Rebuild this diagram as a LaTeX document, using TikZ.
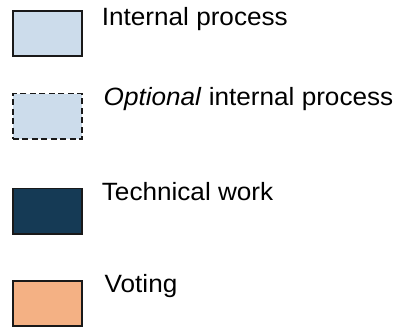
\documentclass[tikz,border=0pt]{standalone}
\usepackage{fontspec}
\setmainfont{Liberation Sans}[FakeStretch=1.045]
\definecolor{lightblue}{HTML}{CCDCEB}
\definecolor{navy}{HTML}{153A55}
\definecolor{peach}{HTML}{F4B184}
\begin{document}
\begin{tikzpicture}[x=1pt,y=-1pt,
  legbox/.style={draw=black!90, line width=1.8pt, minimum width=69.5pt, minimum height=45.5pt, inner sep=0pt, anchor=north west},
  legtext/.style={anchor=base west, inner sep=0pt, font=\fontsize{25}{30}\selectfont}]
\useasboundingbox (0,0) rectangle (398,332);
\node[legbox, fill=lightblue] (b1) at (11.9,9.9) {};
\node[legbox, fill=lightblue, dash pattern=on 6pt off 3.5pt] (b2) at (11.9,92.6) {};
\node[legbox, fill=navy] (b3) at (11.9,187.6) {};
\node[legbox, fill=peach] (b4) at (11.9,279.9) {};
\node[legtext] (t1) at (101.7,25) {Internal process};
\node[legtext] (t2) at (103.5,105) {\textit{Optional} internal process};
\node[legtext] (t3) at (101.7,200) {Technical work};
\node[legtext] (t4) at (104.5,292.3) {Voting};
\end{tikzpicture}
\end{document}
